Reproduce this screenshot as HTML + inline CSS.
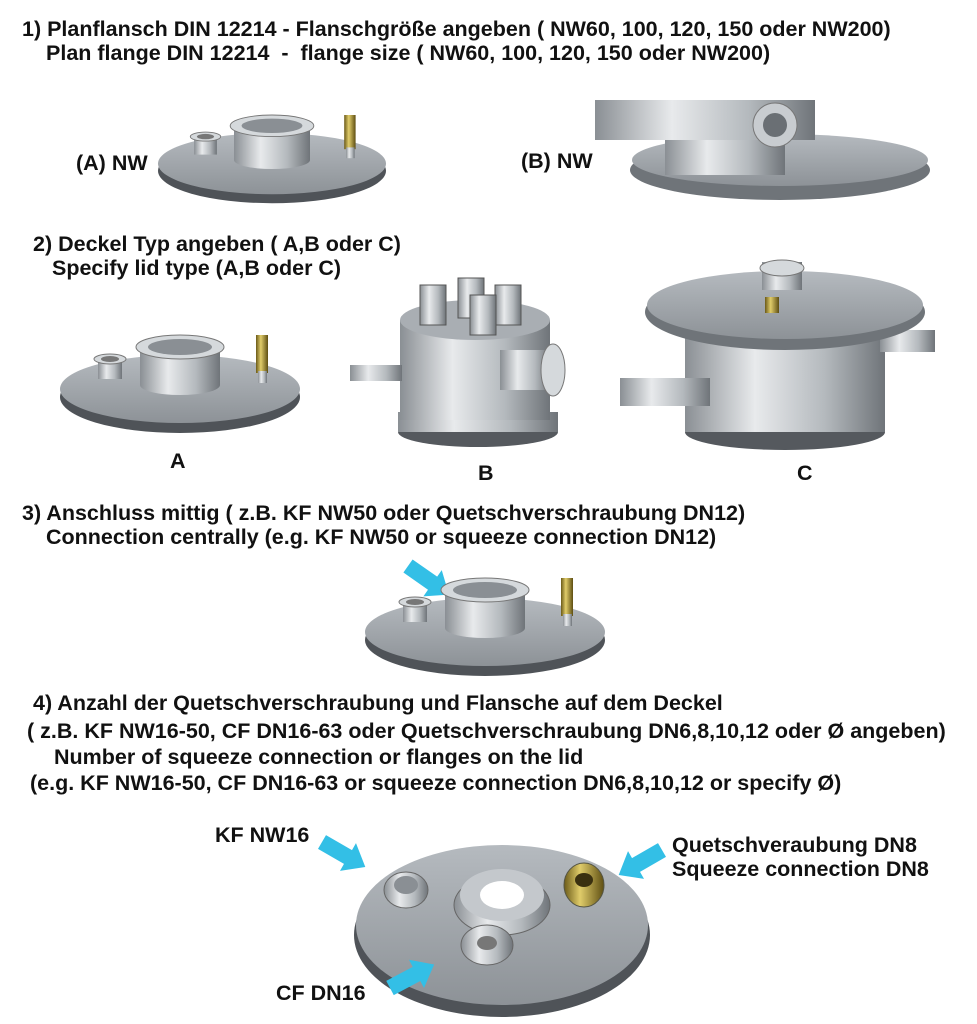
<!DOCTYPE html>
<html><head><meta charset="utf-8"><style>
html,body{margin:0;padding:0;background:#fff;}
body{width:977px;height:1024px;position:relative;overflow:hidden;font-family:"Liberation Sans",sans-serif;}
.t{position:absolute;font-weight:bold;font-size:21.5px;color:#111;white-space:nowrap;line-height:24px;}
svg{position:absolute;left:0;top:0;}
</style></head><body>
<svg width="977" height="1024" viewBox="0 0 977 1024">
<defs>
<linearGradient id="m" x1="0" x2="1"><stop offset="0" stop-color="#8a8f94"/><stop offset=".35" stop-color="#e8eaec"/><stop offset=".7" stop-color="#b4b9bd"/><stop offset="1" stop-color="#6f7479"/></linearGradient>
<linearGradient id="top" x1="0" y1="0" x2="0" y2="1"><stop offset="0" stop-color="#b5babf"/><stop offset="1" stop-color="#8d9297"/></linearGradient>
<linearGradient id="g" x1="0" x2="1"><stop offset="0" stop-color="#6b5a18"/><stop offset=".4" stop-color="#e0cc6a"/><stop offset="1" stop-color="#5e4e12"/></linearGradient>
<g id="lid">
<ellipse cx="0" cy="12" rx="120" ry="36" fill="#4f5358"/>
<ellipse cx="0" cy="4" rx="120" ry="34" fill="url(#top)"/>
<rect x="-40" y="-38" width="80" height="38" fill="url(#m)"/>
<ellipse cx="0" cy="0" rx="40" ry="10" fill="url(#m)"/>
<ellipse cx="0" cy="-38" rx="44" ry="12" fill="#d5d9dc" stroke="#777"/>
<ellipse cx="0" cy="-38" rx="32" ry="8" fill="#8a8f94"/>
<rect x="-82" y="-26" width="24" height="20" fill="url(#m)"/>
<ellipse cx="-70" cy="-26" rx="16" ry="5" fill="#d5d9dc" stroke="#777"/>
<ellipse cx="-70" cy="-26" rx="9" ry="3" fill="#777"/>
<rect x="76" y="-50" width="12" height="38" fill="url(#g)"/>
<rect x="78" y="-14" width="9" height="12" fill="url(#m)"/>
</g>
<polygon id="arr" points="0,-8 30,-8 30,-16 50,0 30,16 30,8 0,8" fill="#33bfe6"/>
</defs>
<use href="#lid" transform="translate(272,160) scale(0.95,0.9)"/>
<!-- B top -->
<ellipse cx="780" cy="170" rx="150" ry="30" fill="#6f7479"/>
<ellipse cx="780" cy="160" rx="148" ry="26" fill="url(#top)"/>
<rect x="665" y="100" width="120" height="75" fill="url(#m)"/>
<rect x="595" y="100" width="220" height="40" fill="url(#m)"/>
<ellipse cx="775" cy="125" rx="22" ry="22" fill="#c8ccd0" stroke="#777"/>
<ellipse cx="775" cy="125" rx="12" ry="12" fill="#6a6f74"/>
<use href="#lid" transform="translate(180,385)"/>
<!-- B chamber -->
<ellipse cx="478" cy="432" rx="80" ry="15" fill="#55595e"/>
<rect x="398" y="412" width="160" height="20" fill="url(#m)"/>
<rect x="400" y="320" width="150" height="100" fill="url(#m)"/>
<ellipse cx="475" cy="320" rx="75" ry="20" fill="#a9aeb3"/>
<rect x="350" y="365" width="52" height="16" fill="url(#m)"/>
<rect x="500" y="350" width="50" height="40" fill="url(#m)"/>
<ellipse cx="553" cy="370" rx="12" ry="26" fill="#d5d9dc" stroke="#777"/>
<g fill="url(#m)" stroke="#555"><rect x="420" y="285" width="26" height="40"/><rect x="458" y="278" width="26" height="40"/><rect x="495" y="285" width="26" height="40"/><rect x="470" y="295" width="26" height="40"/></g>
<!-- C -->
<ellipse cx="785" cy="432" rx="100" ry="18" fill="#55595e"/>
<rect x="685" y="330" width="200" height="102" fill="url(#m)"/>
<rect x="620" y="378" width="90" height="28" fill="url(#m)"/>
<rect x="880" y="330" width="55" height="22" fill="url(#m)"/>
<ellipse cx="785" cy="312" rx="140" ry="38" fill="#6f7479"/>
<ellipse cx="785" cy="305" rx="138" ry="34" fill="url(#top)"/>
<rect x="762" y="262" width="40" height="28" fill="url(#m)"/>
<ellipse cx="782" cy="268" rx="22" ry="8" fill="#d5d9dc" stroke="#777"/>
<rect x="765" y="297" width="14" height="16" fill="url(#g)"/>
<!-- 3 -->
<use href="#arr" transform="translate(408,566) rotate(35)"/>
<use href="#lid" transform="translate(485,628)"/>
<!-- 4 big lid -->
<ellipse cx="502" cy="935" rx="148" ry="82" fill="#4f5358"/>
<ellipse cx="502" cy="925" rx="146" ry="80" fill="url(#top)"/>
<ellipse cx="502" cy="905" rx="48" ry="30" fill="url(#m)" stroke="#666"/>
<ellipse cx="502" cy="895" rx="42" ry="26" fill="#c4c8cc"/>
<ellipse cx="502" cy="895" rx="22" ry="14" fill="#fff"/>
<ellipse cx="406" cy="890" rx="22" ry="18" fill="url(#m)" stroke="#666"/>
<ellipse cx="406" cy="885" rx="12" ry="9" fill="#8a8f94"/>
<ellipse cx="487" cy="945" rx="26" ry="20" fill="url(#m)" stroke="#666"/>
<ellipse cx="487" cy="943" rx="10" ry="7" fill="#777"/>
<ellipse cx="584" cy="885" rx="20" ry="22" fill="url(#g)" stroke="#554"/>
<ellipse cx="584" cy="880" rx="9" ry="7" fill="#3a3010"/>
<use href="#arr" transform="translate(322,842) rotate(30)"/>
<use href="#arr" transform="translate(662,850) rotate(150)"/>
<use href="#arr" transform="translate(390,988) rotate(-28)"/>
</svg>
<div class="t" style="left:22px;top:17px">1) Planflansch DIN 12214 - Flanschgröße angeben ( NW60, 100, 120, 150 oder NW200)</div>
<div class="t" style="left:46px;top:41px">Plan flange DIN 12214&nbsp; -&nbsp; flange size ( NW60, 100, 120, 150 oder NW200)</div>
<div class="t" style="left:76px;top:151px">(A) NW</div>
<div class="t" style="left:521px;top:149px">(B) NW</div>
<div class="t" style="left:33px;top:232px">2) Deckel Typ angeben ( A,B oder C)</div>
<div class="t" style="left:52px;top:256px">Specify lid type (A,B oder C)</div>
<div class="t" style="left:170px;top:449px">A</div>
<div class="t" style="left:478px;top:461px">B</div>
<div class="t" style="left:797px;top:461px">C</div>
<div class="t" style="left:22px;top:501px">3) Anschluss mittig ( z.B. KF NW50 oder Quetschverschraubung DN12)</div>
<div class="t" style="left:46px;top:525px">Connection centrally (e.g. KF NW50 or squeeze connection DN12)</div>
<div class="t" style="left:33px;top:691px">4) Anzahl der Quetschverschraubung und Flansche auf dem Deckel</div>
<div class="t" style="left:27px;top:719px">( z.B. KF NW16-50, CF DN16-63 oder Quetschverschraubung DN6,8,10,12 oder Ø angeben)</div>
<div class="t" style="left:54px;top:745px">Number of squeeze connection or flanges on the lid</div>
<div class="t" style="left:30px;top:771px">(e.g. KF NW16-50, CF DN16-63 or squeeze connection DN6,8,10,12 or specify Ø)</div>
<div class="t" style="left:215px;top:823px">KF NW16</div>
<div class="t" style="left:672px;top:833px">Quetschveraubung DN8</div>
<div class="t" style="left:672px;top:857px">Squeeze connection DN8</div>
<div class="t" style="left:276px;top:981px">CF DN16</div>
</body></html>
